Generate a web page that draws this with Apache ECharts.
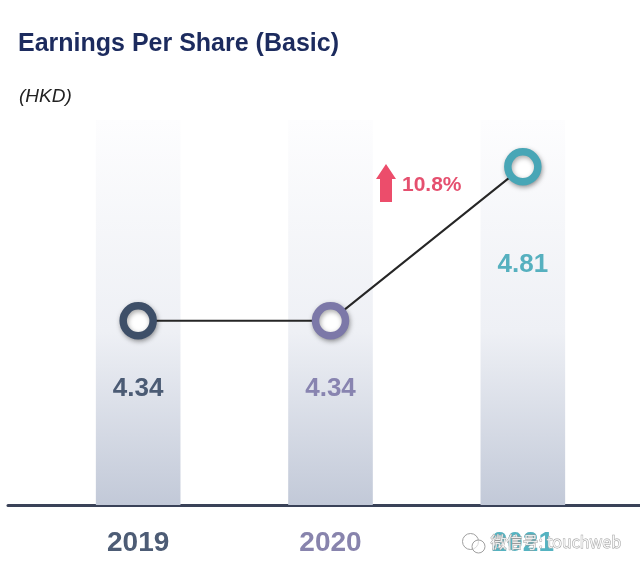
<!DOCTYPE html>
<html>
<head>
<meta charset="utf-8">
<script src="https://cdn.jsdelivr.net/npm/echarts@6/dist/echarts.min.js"></script>
<style>
  html, body { margin: 0; padding: 0; background: #ffffff; }
  #chart { width: 640px; height: 575px; }
</style>
</head>
<body>
<div id="chart"></div>
<script>
// ---- data ----
const categories = ['2019', '2020', '2021'];
const eps = [4.34, 4.34, 4.81];
const valueLabels = ['4.34', '4.34', '4.81'];
const growthLabel = '10.8%';
const titleText = 'Earnings Per Share (Basic)';
const unitText = '(HKD)';
const watermarkText = '微信号: touchweb';

// ---- styles ----
const FONT = '"Liberation Sans", Arial, Helvetica, sans-serif';
const ringColors = ['#3e4f68', '#7c78a8', '#48a6b6'];
const valueColors = ['#4b5b74', '#8884b0', '#56b0bf'];
const catColors = ['#4d5c75', '#8884ad', '#55b3c1'];
const labelOffsets = [[0, 68], [0, 68], [0, 98]];

const chart = echarts.init(document.getElementById('chart'), null, { renderer: 'canvas' });

const rich = {};
catColors.forEach((c, i) => {
  rich['c' + i] = { color: c, fontSize: 28, fontWeight: 'bold', fontFamily: FONT, lineHeight: 28 };
});

const lineData = eps.map((v, i) => ({
  value: v,
  itemStyle: {
    color: '#ffffff',
    borderColor: ringColors[i],
    borderWidth: 7.5,
    shadowBlur: 5,
    shadowColor: 'rgba(0,0,0,0.35)',
    shadowOffsetX: 1,
    shadowOffsetY: 2
  },
  label: {
    show: true,
    position: 'inside',
    offset: labelOffsets[i],
    formatter: valueLabels[i],
    color: valueColors[i],
    fontSize: 26,
    fontWeight: 'bold',
    fontFamily: FONT
  }
}));

const option = {
  backgroundColor: '#ffffff',
  animation: false,
  title: [
    {
      text: titleText,
      left: 18,
      top: 31,
      padding: 0,
      textStyle: { fontSize: 25, fontWeight: 'bold', color: '#1c2b5e', fontFamily: FONT, lineHeight: 26 }
    },
    {
      text: unitText,
      left: 19,
      top: 86,
      padding: 0,
      textStyle: { fontSize: 19, fontWeight: 'normal', fontStyle: 'italic', color: '#222222', fontFamily: FONT, lineHeight: 22 }
    }
  ],
  grid: [
    { left: 42, right: 21, top: 120, bottom: 70 },
    { left: 8, right: 0, top: 120, bottom: 70 }
  ],
  xAxis: [
    {
      type: 'category',
      gridIndex: 0,
      data: categories,
      axisLine: { show: false },
      axisTick: { show: false },
      axisLabel: {
        margin: 24,
        formatter: (v, i) => '{c' + i + '|' + v + '}',
        rich: rich
      }
    },
    {
      type: 'value',
      gridIndex: 1,
      min: 0,
      max: 1,
      axisLine: { show: true, onZero: false, lineStyle: { color: '#3a4258', width: 3 } },
      axisTick: { show: false },
      axisLabel: { show: false },
      splitLine: { show: false }
    }
  ],
  yAxis: [
    { type: 'value', gridIndex: 0, min: 3.778, max: 4.953, show: false },
    { type: 'value', gridIndex: 1, min: 0, max: 1, show: false }
  ],
  series: [
    {
      type: 'bar',
      xAxisIndex: 0,
      yAxisIndex: 0,
      data: eps,
      barWidth: '44%',
      itemStyle: { color: 'rgba(0,0,0,0)' },
      showBackground: true,
      backgroundStyle: {
        color: new echarts.graphic.LinearGradient(0, 0, 0, 1, [
          { offset: 0, color: '#fdfdfe' },
          { offset: 0.55, color: '#eef0f5' },
          { offset: 1, color: '#c2c9d8' }
        ])
      },
      silent: true,
      z: 1
    },
    {
      type: 'line',
      xAxisIndex: 0,
      yAxisIndex: 0,
      data: lineData,
      symbol: 'circle',
      symbolSize: 30,
      lineStyle: { color: '#262626', width: 2 },
      z: 3
    }
  ],
  graphic: [
    {
      type: 'polygon',
      shape: { points: [[376, 179], [386, 164], [396, 179], [392, 179], [392, 202], [380, 202], [380, 179]] },
      style: { fill: '#ec4d6b' },
      z: 10
    },
    {
      type: 'text',
      left: 402,
      top: 175,
      style: { text: growthLabel, fill: '#e5506f', font: 'bold 21px ' + FONT },
      z: 10
    },
    {
      type: 'group',
      left: 462,
      top: 533,
      z: 20,
      children: [
        { type: 'circle', shape: { cx: 9, cy: 10, r: 8 }, style: { fill: 'rgba(255,255,255,0.6)', stroke: '#a0a0a0', lineWidth: 1 } },
        { type: 'circle', shape: { cx: 17, cy: 15, r: 6.5 }, style: { fill: 'rgba(255,255,255,0.6)', stroke: '#a0a0a0', lineWidth: 1 } }
      ]
    },
    {
      type: 'text',
      left: 490,
      top: 534,
      z: 20,
      style: {
        text: watermarkText,
        font: '16px "Noto Sans CJK SC", ' + FONT,
        fill: 'rgba(255,255,255,0.8)',
        stroke: '#9a9a9a',
        lineWidth: 0.8
      }
    }
  ]
};

chart.setOption(option);
</script>
</body>
</html>
